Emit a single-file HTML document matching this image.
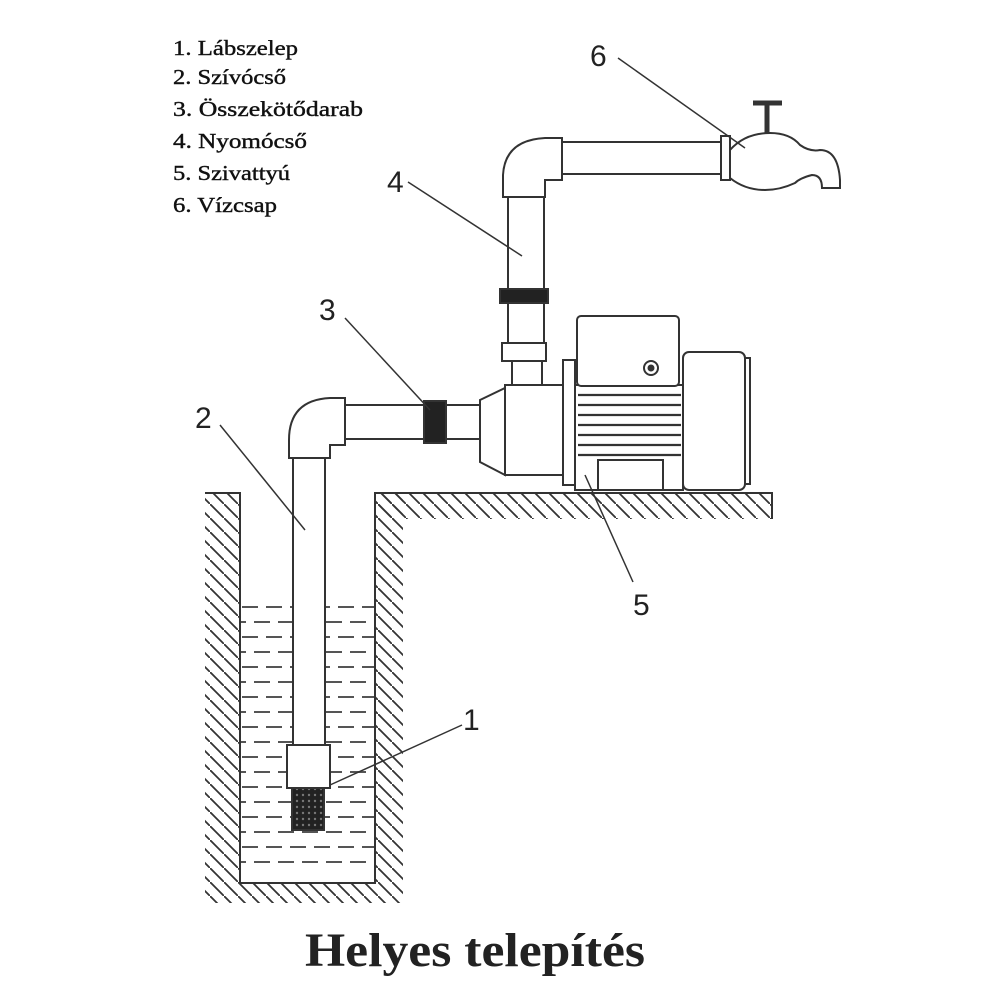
<!DOCTYPE html><html><head><style>body{margin:0;background:#fff}svg{display:block}</style></head><body>
<svg width="1000" height="1000" viewBox="0 0 1000 1000" xmlns="http://www.w3.org/2000/svg">
<defs>
<pattern id="h" width="14" height="14" patternUnits="userSpaceOnUse"><path d="M-3,-3 L17,17" stroke="#333" stroke-width="1.8"/></pattern>
<pattern id="w" width="48" height="30" patternUnits="userSpaceOnUse"><path d="M2,7 H18 M26,7 H42 M-10,22 H6 M14,22 H30 M38,22 H54" stroke="#555" stroke-width="2"/></pattern>
<pattern id="d" width="6" height="6" patternUnits="userSpaceOnUse"><rect width="6" height="6" fill="#222"/><circle cx="3" cy="3" r="1.2" fill="#777"/></pattern>
</defs>
<g font-family="Liberation Serif,serif" font-size="21" fill="#111" stroke="#111" stroke-width="0.4">
<text x="173" y="55" textLength="125" lengthAdjust="spacingAndGlyphs">1. Lábszelep</text>
<text x="173" y="84" textLength="113" lengthAdjust="spacingAndGlyphs">2. Szívócső</text>
<text x="173" y="116" textLength="190" lengthAdjust="spacingAndGlyphs">3. Összekötődarab</text>
<text x="173" y="148" textLength="134" lengthAdjust="spacingAndGlyphs">4. Nyomócső</text>
<text x="173" y="180" textLength="117" lengthAdjust="spacingAndGlyphs">5. Szivattyú</text>
<text x="173" y="212" textLength="104" lengthAdjust="spacingAndGlyphs">6. Vízcsap</text>
</g>
<rect x="205" y="493" width="35" height="410" fill="url(#h)"/>
<rect x="375" y="493" width="397" height="26" fill="url(#h)"/>
<rect x="375" y="493" width="28" height="410" fill="url(#h)"/>
<rect x="240" y="883" width="135" height="20" fill="url(#h)"/>
<rect x="241" y="494" width="133" height="388" fill="#fff"/>
<rect x="241" y="606" width="133" height="270" fill="url(#w)"/>
<g fill="none" stroke="#333" stroke-width="2">
<path d="M205,493 H240 V883 H375 V493 H772 V519"/>
</g>
<g stroke="#333" stroke-width="2" fill="#fff">
<rect x="293" y="455" width="32" height="290"/>
<rect x="287" y="745" width="43" height="43"/>
<rect x="292" y="788" width="32" height="42" fill="url(#d)"/>
<path d="M289,458 V440 Q289,400 330,398 H345 V445 H330 V458 Z"/>
<rect x="345" y="405" width="80" height="34"/>
<rect x="424" y="401" width="22" height="42" fill="#222"/>
<rect x="446" y="405" width="34" height="34"/>
<path d="M480,400 L505,388 V475 L480,462 Z"/>
<rect x="508" y="195" width="36" height="95"/>
<rect x="500" y="289" width="48" height="14" fill="#222"/>
<rect x="508" y="303" width="36" height="40"/>
<rect x="502" y="343" width="44" height="18"/>
<rect x="512" y="361" width="30" height="26"/>
<path d="M503,197 V175 Q505,140 545,138 H562 V180 H545 V197 Z"/>
<rect x="562" y="142" width="160" height="32"/>
<rect x="721" y="136" width="9" height="44"/>
<path d="M730,150 Q745,133 770,133 Q790,133 800,145 Q810,152 820,150 Q838,150 840,180 V188 H822 Q822,175 812,175 Q800,178 795,183 Q780,190 765,190 Q745,190 730,178 Z"/>
<path d="M767,133 V105" stroke-width="5"/><path d="M753,103 H782" stroke-width="5"/>
<rect x="505" y="385" width="65" height="90"/>
<rect x="563" y="360" width="12" height="125"/>
<rect x="575" y="385" width="108" height="105"/>
<rect x="577" y="316" width="102" height="70" rx="4"/>
<rect x="683" y="352" width="62" height="138" rx="6"/>
<rect x="745" y="358" width="5" height="126"/>
<circle cx="651" cy="368" r="7"/><circle cx="651" cy="368" r="2.5" fill="#333"/>
<rect x="598" y="460" width="65" height="30"/>
</g>
<g stroke="#333" stroke-width="2.2">
<path d="M578,395 H681 M578,405 H681 M578,415 H681 M578,425 H681 M578,435 H681 M578,445 H681 M578,455 H681"/>
</g>
<g stroke="#333" stroke-width="1.5">
<path d="M618,58 L745,148"/><path d="M408,182 L522,256"/><path d="M345,318 L430,410"/><path d="M220,425 L305,530"/><path d="M633,582 L585,475"/><path d="M462,725 L330,785"/>
</g>
<g font-family="Liberation Sans,sans-serif" font-size="30" fill="#222">
<text x="590" y="66">6</text><text x="387" y="192">4</text><text x="319" y="320">3</text><text x="195" y="428">2</text><text x="633" y="615">5</text><text x="463" y="730">1</text>
</g>
<text x="475" y="966" text-anchor="middle" font-family="Liberation Serif,serif" font-weight="bold" font-size="48" fill="#222" textLength="340" lengthAdjust="spacingAndGlyphs">Helyes telepítés</text>
</svg>
</body></html>
